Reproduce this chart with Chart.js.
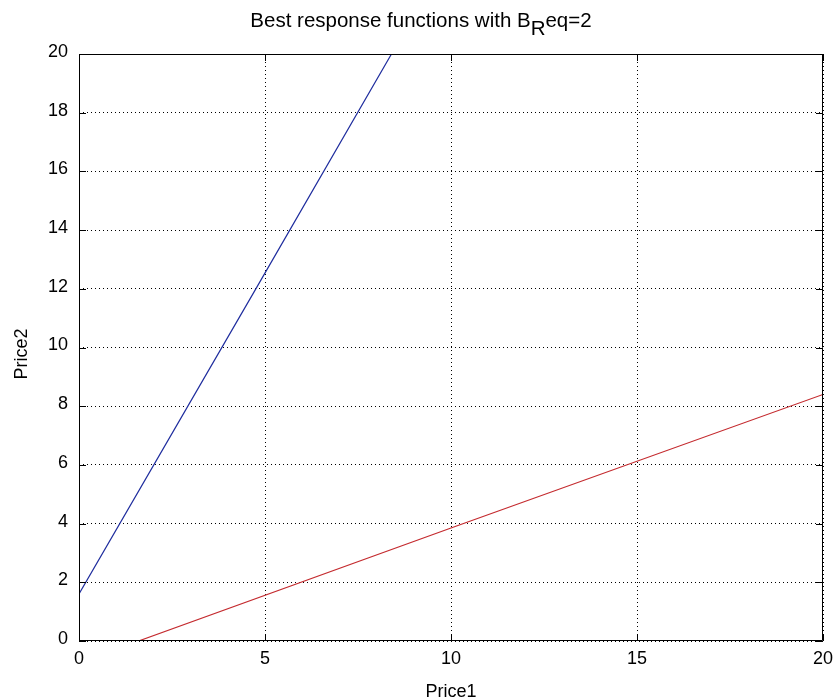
<!DOCTYPE html>
<html>
<head>
<meta charset="utf-8">
<script src="https://cdn.jsdelivr.net/npm/chart.js@4.4.1/dist/chart.umd.min.js"></script>
<style>
  html, body { margin: 0; padding: 0; background: #fff; }
  #wrap { width: 835px; height: 700px; }
</style>
</head>
<body>
<div id="wrap"><canvas id="chart" width="835" height="700"></canvas></div>
<script>
// values
const xTicks = [0, 5, 10, 15, 20];
const yTicks = [0, 2, 4, 6, 8, 10, 12, 14, 16, 18, 20];
const blueX = [0, 4.8, 8.4];
const blueY = [1.6, 12.1, 20];
const redX = [1.6, 10, 20];
const redY = [0, 3.85, 8.4];

const titleMain = "Best response functions with B";
const titleSub = "R";
const titleEnd = "eq=2";
const xLabel = "Price1";
const yLabel = "Price2";

const FONT = "Liberation Sans, Arial, sans-serif";

function pts(xs, ys) {
  return xs.map((x, i) => ({ x: x, y: ys[i] }));
}

// box, inward ticks, title and axis labels
const frame = {
  id: "frame",
  afterDraw(chart) {
    const ctx = chart.ctx;
    const a = chart.chartArea;
    const sx = chart.scales.x, sy = chart.scales.y;
    const tl = 7;
    ctx.save();
    ctx.strokeStyle = "#000";
    ctx.lineWidth = 1;
    ctx.beginPath();
    ctx.rect(a.left + 0.5, a.top + 0.5, a.right - a.left - 1, a.bottom - a.top - 1);
    xTicks.forEach(v => {
      const px = Math.round(sx.getPixelForValue(v)) + 0.5;
      ctx.moveTo(px, a.bottom); ctx.lineTo(px, a.bottom - tl);
      ctx.moveTo(px, a.top); ctx.lineTo(px, a.top + tl);
    });
    yTicks.forEach(v => {
      const py = Math.round(sy.getPixelForValue(v)) + 0.5;
      ctx.moveTo(a.left, py); ctx.lineTo(a.left + tl, py);
      ctx.moveTo(a.right, py); ctx.lineTo(a.right - tl, py);
    });
    ctx.stroke();

    ctx.fillStyle = "#000";
    ctx.textBaseline = "alphabetic";
    // title with subscript
    ctx.font = "20.5px " + FONT;
    const w1 = ctx.measureText(titleMain).width;
    const w2 = ctx.measureText(titleSub).width;
    const w3 = ctx.measureText(titleEnd).width;
    const x0 = 421 - (w1 + w2 + w3) / 2;
    const base = 27;
    ctx.textAlign = "left";
    ctx.fillText(titleMain, x0, base);
    ctx.fillText(titleSub, x0 + w1, base + 8);
    ctx.fillText(titleEnd, x0 + w1 + w2, base);

    // axis labels
    ctx.font = "18px " + FONT;
    ctx.textAlign = "center";
    ctx.fillText(xLabel, (a.left + a.right) / 2, 697);
    ctx.translate(27, 354);
    ctx.rotate(-Math.PI / 2);
    ctx.fillText(yLabel, 0, 0);
    ctx.restore();
  }
};

new Chart(document.getElementById("chart"), {
  type: "scatter",
  data: {
    datasets: [
      {
        data: pts(blueX, blueY),
        showLine: true,
        borderColor: "#1f2d9e",
        borderWidth: 1.2,
        pointRadius: 0,
        fill: false
      },
      {
        data: pts(redX, redY),
        showLine: true,
        borderColor: "#c42a2e",
        borderWidth: 1.2,
        pointRadius: 0,
        fill: false
      }
    ]
  },
  options: {
    responsive: false,
    animation: false,
    layout: { padding: { left: 0, top: 54, right: 12, bottom: 0 } },
    plugins: {
      legend: { display: false },
      tooltip: { enabled: false }
    },
    scales: {
      x: {
        type: "linear",
        min: 0, max: 20,
        afterBuildTicks: s => { s.ticks = xTicks.map(v => ({ value: v })); },
        afterFit: s => { s.height = 59; s.paddingLeft = 0; s.paddingRight = 0; },
        ticks: { color: "#000", font: { family: FONT, size: 18 }, padding: 7, maxRotation: 0 },
        grid: { color: "#000", lineWidth: 1, drawTicks: false },
        border: { display: false, dash: [1, 3] }
      },
      y: {
        type: "linear",
        min: 0, max: 20,
        afterBuildTicks: s => { s.ticks = yTicks.map(v => ({ value: v })); },
        afterFit: s => { s.width = 79; s.paddingTop = 0; s.paddingBottom = 0; },
        ticks: { color: "#000", font: { family: FONT, size: 18 }, padding: 11, labelOffset: -2 },
        grid: { color: "#000", lineWidth: 1, drawTicks: false },
        border: { display: false, dash: [1, 3] }
      }
    }
  },
  plugins: [frame]
});
</script>
</body>
</html>
